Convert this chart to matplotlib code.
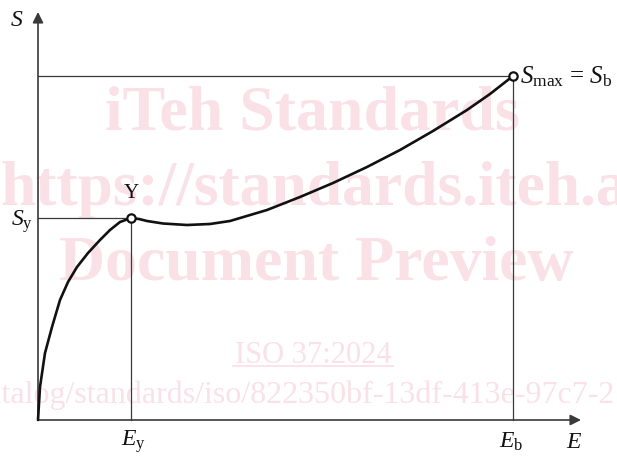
import matplotlib
matplotlib.use("Agg")
import matplotlib.pyplot as plt

# Stress-strain curve read in plot units (E along x, S along y)
strain = [0, 2, 7, 14, 22, 30, 39, 50, 62, 72, 82, 93, 101, 109, 125, 149,
          172, 192, 229, 262, 295, 329, 362, 395, 429, 452, 475]
stress = [0, 33, 67, 93, 120, 138, 153, 167, 180, 190, 198, 202, 201, 199, 196.5, 195,
          196, 199, 210, 223, 237, 253, 270, 289, 310, 326, 344]

# Yield point and break point
yield_point = (93, 202)
break_point = (475, 344)

# Watermark lines: text, weight, anchor (axes fraction), alignment, size
watermark_lines = [
    ("iTeh Standards", "bold", 0.506, 0.752, "center", 46),
    ("https://standards.iteh.ai", "bold", 0.0, 0.590, "left", 45.7),
    ("Document Preview", "bold", 0.512, 0.427, "center", 46),
    ("ISO 37:2024", "normal", 0.507, 0.233, "center", 22),
    ("catalog/standards/iso/822350bf-13df-413e-97c7-2", "normal", 0.997, 0.147, "right", 23),
]

plt.rcParams["mathtext.fontset"] = "custom"
plt.rcParams["mathtext.rm"] = "Liberation Serif"
plt.rcParams["mathtext.it"] = "Liberation Serif:italic"
plt.rcParams["font.family"] = "Liberation Serif"

fig = plt.figure(figsize=(6.17, 4.63), dpi=100)
ax = fig.add_axes([0, 0, 1, 1])
ax.set_xlim(-38, 579)
ax.set_ylim(-43, 420)
ax.axis("off")

# Faint watermark behind the drawing
wm_color = "#fae1e8"
for text, weight, fx, fy, align, size in watermark_lines:
    ax.text(fx, fy, text, fontsize=size, fontweight=weight, color=wm_color,
            ha=align, va="center", transform=ax.transAxes, zorder=1)
ax.plot([195, 355], [54, 54], color=wm_color, lw=1.3, zorder=1)

axis_color = "#3a3a3a"
arrow = dict(arrowstyle="-|>", color=axis_color, lw=1.2,
             mutation_scale=16, shrinkA=0, shrinkB=0)
ax.annotate("", xy=(0, 408), xytext=(0, 0), arrowprops=arrow, zorder=3)
ax.annotate("", xy=(543, 0), xytext=(0, 0), arrowprops=arrow, zorder=3)

# Reference lines to the yield and break points
ey, sy = yield_point
eb, sb = break_point
ref = dict(color=axis_color, lw=0.9, zorder=2)
ax.plot([0, ey], [sy, sy], **ref)
ax.plot([ey, ey], [0, sy], **ref)
ax.plot([0, eb], [sb, sb], **ref)
ax.plot([eb, eb], [0, sb], **ref)

ax.plot(strain, stress, color="#111111", lw=1.9, solid_joinstyle="round",
        solid_capstyle="round", zorder=4)
ax.plot([ey, eb], [sy, sb], "o", ms=6, mfc="white", mec="#111111", mew=1.6, zorder=5)

label = dict(fontsize=17, color="#111111", zorder=6)
ax.text(-21, 400, r"$S$", ha="center", va="center", **label)
ax.text(-16, 198, r"$S_\mathrm{y}$", ha="center", va="center", **label)
ax.text(ey, 226, "Y", ha="center", va="center", fontsize=15, color="#111111", zorder=6)
ax.text(ey + 2, -22, r"$E_\mathrm{y}$", ha="center", va="center", **label)
ax.text(eb - 2, -22, r"$E_\mathrm{b}$", ha="center", va="center", **label)
ax.text(536, -22, r"$E$", ha="center", va="center", **label)
ax.text(eb + 7, 343, r"$S_\mathrm{max}$ = $S_\mathrm{b}$", ha="left", va="center",
        fontsize=18, color="#111111", zorder=6)

fig.savefig("out.png", dpi=100)
